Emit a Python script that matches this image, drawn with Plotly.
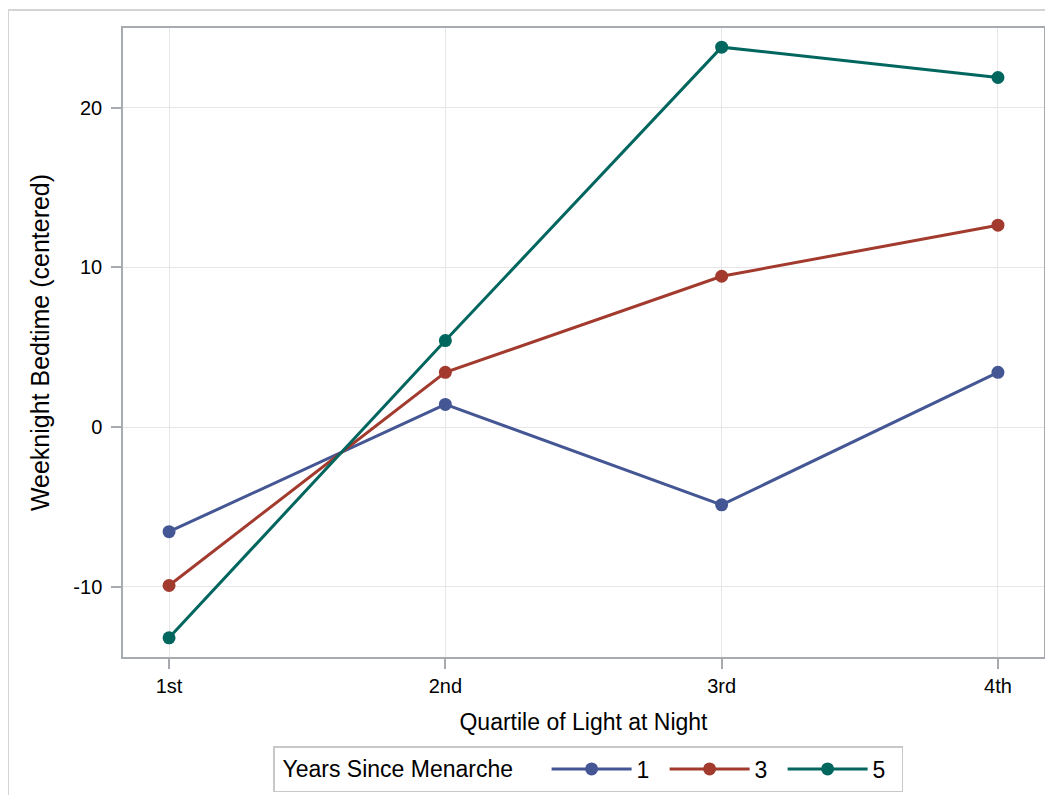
import plotly.graph_objects as go

categories = ["1st", "2nd", "3rd", "4th"]
series_names = ["1", "3", "5"]
values_1 = [-6.55, 1.42, -4.87, 3.43]
values_3 = [-9.92, 3.43, 9.45, 12.65]
values_5 = [-13.2, 5.42, 23.8, 21.9]
colors = ["#445694", "#A23A2E", "#01665E"]

x_pos = list(range(len(categories)))
fig = go.Figure()
for name, vals, col in zip(series_names, [values_1, values_3, values_5], colors):
    fig.add_trace(go.Scatter(
        x=x_pos, y=vals, mode="lines+markers", name=name,
        line=dict(color=col, width=3),
        marker=dict(color=col, size=13),
    ))

# page has an 8px body margin; figure is sized/offset to compensate
W, H = 1045, 787
ml, mr, mt, mb = 115, 9, 20, 138
pw = W - ml - mr
ph = H - mt - mb

axis_common = dict(
    showline=True, linecolor="#A7ABAF", linewidth=1.5, mirror=True,
    showgrid=True, gridcolor="#E6E6E6", gridwidth=1,
    ticks="outside", ticklen=10, tickcolor="#A7ABAF", tickwidth=1.5,
    zeroline=False, automargin=False,
    tickfont=dict(size=20, color="#000000"),
)

fig.update_layout(
    width=W, height=H,
    margin=dict(l=ml, r=mr, t=mt, b=mb),
    paper_bgcolor="white", plot_bgcolor="white",
    font=dict(family="Liberation Sans, Arial, sans-serif", color="#000000"),
    xaxis=dict(**axis_common, range=[-1/6, 3 + 1/6], tickmode="array",
               tickvals=x_pos, ticktext=categories,
               title=dict(text="Quartile of Light at Night", standoff=18,
                          font=dict(size=23, color="#000000"))),
    yaxis=dict(**axis_common, range=[-14.4, 25.0], tickmode="array",
               tickvals=[-10, 0, 10, 20], ticktext=["-10", "0", "10", "20"],
               ticklabelstandoff=5,
               title=dict(text="Weeknight Bedtime (centered)", standoff=17,
                          font=dict(size=25, color="#000000"))),
    legend=dict(
        orientation="h", x=(265 - ml) / pw, xanchor="left",
        yref="container", y=1 - 738 / H, yanchor="top",
        bordercolor="#C8C8C8", borderwidth=1.5,
        title=dict(text=" Years Since Menarche    ", font=dict(size=23), side="left"),
        font=dict(size=23), itemwidth=80, entrywidth=23, tracegroupgap=0,
    ),
    shapes=[dict(type="rect", xref="paper", yref="paper",
                 x0=(0 - ml) / pw, x1=1.2, y0=-0.6, y1=(mt + ph - 2) / ph,
                 line=dict(color="#D4D4D4", width=2), layer="below")],
)

fig.write_html("out.html")
